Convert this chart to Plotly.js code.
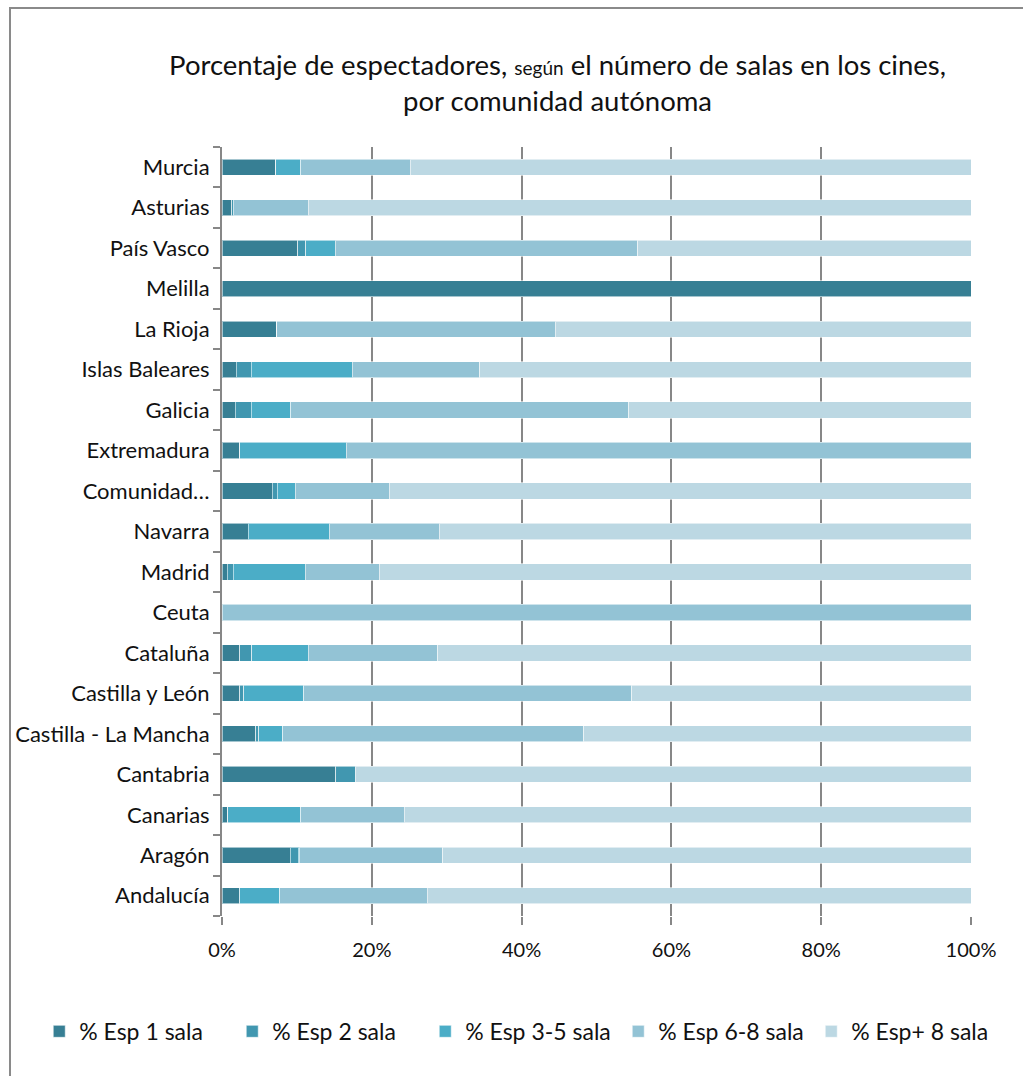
<!DOCTYPE html>
<html>
<head>
<meta charset="utf-8">
<script src="https://cdn.plot.ly/plotly-3.0.1.min.js"></script>
<style>
  html, body { margin: 0; padding: 0; background: #fff; }
  #chart { width: 1023px; height: 1076px; }
  #frame { position: absolute; left: 9px; top: 7px; width: 1100px; height: 1200px;
           border-left: 2px solid #8a8a8a; border-top: 2px solid #8a8a8a; pointer-events: none; }
</style>
</head>
<body>
<div id="chart"></div>
<div id="frame"></div>
<script>
// Categories listed bottom to top
const regions = ["Andalucía", "Aragón", "Canarias", "Cantabria", "Castilla - La Mancha",
  "Castilla y León", "Cataluña", "Ceuta", "Madrid", "Navarra", "Comunidad…",
  "Extremadura", "Galicia", "Islas Baleares", "La Rioja", "Melilla", "País Vasco",
  "Asturias", "Murcia"];

const esp1   = [2.3, 9.1, 0.8, 15.2, 4.5, 2.4, 2.4, 0, 0.7, 3.5, 6.7, 2.4, 1.8, 1.9, 7.3, 100, 10.1, 1.3, 7.2];
const esp2   = [0.1, 1.1, 0, 2.6, 0.4, 0.5, 1.6, 0, 0.8, 0, 0.7, 0, 2.1, 2.0, 0, 0, 1.1, 0.2, 0];
const esp35  = [5.3, 0.1, 9.7, 0, 3.2, 8.0, 7.5, 0, 9.6, 10.8, 2.4, 14.2, 5.3, 13.5, 0, 0, 3.9, 0, 3.3];
const esp68  = [19.7, 19.2, 13.8, 0, 40.2, 43.8, 17.3, 100, 9.9, 14.7, 12.5, 83.4, 45.1, 17.0, 37.2, 0, 40.4, 10.0, 14.6];
const esp8   = [72.6, 70.5, 75.7, 82.2, 51.7, 45.3, 71.2, 0, 79.0, 71.0, 77.7, 0, 45.7, 65.6, 55.5, 0, 44.5, 88.5, 74.9];

const seriesNames = ["% Esp 1 sala", "% Esp 2 sala", "% Esp 3-5 sala", "% Esp 6-8 sala", "% Esp+ 8 sala"];
const seriesColors = ["#377f94", "#4197b0", "#4badc7", "#93c3d5", "#bcd8e3"];
const seriesValues = [esp1, esp2, esp35, esp68, esp8];

const traces = seriesValues.map((vals, i) => ({
  type: "bar",
  orientation: "h",
  name: seriesNames[i],
  y: regions,
  x: vals,
  marker: { color: seriesColors[i], line: { color: "rgba(255,255,255,0.55)", width: 1 } },
  hoverinfo: "name+x"
}));

const font = "Lato, 'Open Sans', sans-serif";

const layout = {
  width: 1023,
  height: 1076,
  paper_bgcolor: "rgba(0,0,0,0)",
  plot_bgcolor: "#fff",
  barmode: "stack",
  bargap: 0.6,
  margin: { l: 222, r: 52, t: 147, b: 160 },
  font: { family: font, size: 22, color: "#111" },
  title: {
    text: "Porcentaje de espectadores, <span style=\"font-size:19px\">según</span> el número de salas en los cines,<br>por comunidad autónoma",
    font: { family: font, size: 27.5, color: "#111" },
    xref: "container", x: 0.545, xanchor: "center",
    yref: "container", y: 0.93, yanchor: "top"
  },
  xaxis: {
    range: [0, 100],
    tickmode: "linear", tick0: 0, dtick: 20,
    ticksuffix: "%",
    showgrid: true, gridcolor: "#878787", gridwidth: 2,
    zeroline: false, showline: false,
    ticks: "outside", ticklen: 8, tickwidth: 2, tickcolor: "#878787",
    ticklabelstandoff: 8,
    tickfont: { family: font, size: 20, color: "#111" },
    fixedrange: true
  },
  yaxis: {
    type: "category",
    showline: true, linecolor: "#878787", linewidth: 2,
    ticks: "outside", ticklen: 7, tickwidth: 2, tickcolor: "#878787",
    tickson: "boundaries",
    showgrid: false,
    ticklabelstandoff: 6,
    tickfont: { family: font, size: 22, color: "#111" },
    fixedrange: true
  },
  legend: {
    orientation: "h",
    traceorder: "normal",
    x: -0.244, xref: "paper", xanchor: "left",
    y: -0.15, yref: "paper", yanchor: "middle",
    font: { family: font, size: 23, color: "#111" },
    itemwidth: 30,
    entrywidth: 148, entrywidthmode: "pixels"
  },
  showlegend: true
};

Plotly.newPlot("chart", traces, layout, { displayModeBar: false, staticPlot: true });
</script>
</body>
</html>
